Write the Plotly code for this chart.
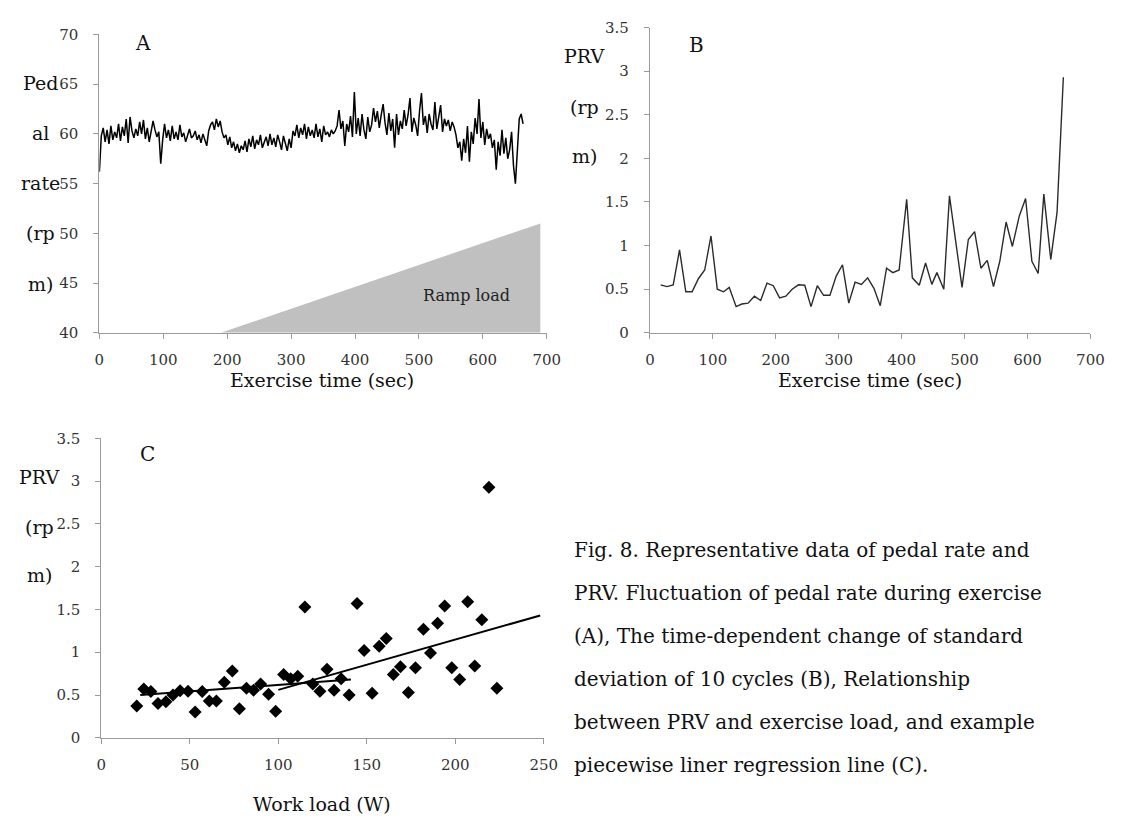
import plotly.graph_objects as go

# ---------------- data ----------------
# (A) pedal rate sampled every 3 s
rate_a = [
    56.2, 59.8, 60.6, 59.2, 60.4, 59.0, 60.8, 59.4, 60.2, 59.6, 61.0,
    59.3, 60.7, 59.8, 61.5, 59.1, 61.7, 60.3, 59.6, 60.5, 59.8,
    61.2, 60.0, 61.4, 59.5, 60.6, 59.2, 60.1, 61.3, 60.4, 59.7, 60.2, 57.0, 59.4,
    61.0, 59.6, 60.4, 59.3, 60.8, 59.5, 60.2, 59.4, 60.9, 59.7, 60.1, 59.2, 59.9,
    60.5, 59.6, 59.8, 60.3, 59.4, 59.9, 59.1, 60.0, 59.5, 58.8,
    60.3, 60.9, 61.2, 60.4, 61.5, 60.7, 61.3, 60.2, 59.6,
    59.9, 58.9, 59.7, 58.6, 59.2, 58.3, 59.0, 58.1, 58.8,
    58.4, 59.3, 58.2, 59.5, 58.7, 59.8, 58.5, 59.4, 58.9, 59.9, 58.6, 59.2, 59.7,
    58.8, 60.0, 58.9, 59.6, 58.7, 59.9, 59.2, 58.4, 59.8, 59.1, 58.3, 59.5, 58.6,
    60.3, 59.8, 60.9, 59.6, 60.6, 59.9, 61.0, 59.5, 60.7, 59.8, 60.4, 59.6, 61.0,
    59.7, 60.5, 59.2, 60.8, 59.9, 60.2, 59.7, 60.4, 60.0, 60.3,
    60.8, 62.4, 60.5, 61.3, 58.8, 61.0, 60.2, 61.8, 59.7, 64.2,
    60.0, 61.6, 59.8, 62.0, 60.4, 59.5, 61.7, 60.2, 60.9, 62.6, 61.2, 62.3, 60.6,
    61.9, 63.0, 61.1, 59.9,
    62.1, 60.3, 61.5, 58.6, 62.0, 59.9, 61.3, 60.5, 62.4, 60.8, 61.9, 63.6, 60.2,
    61.6, 60.9, 59.8,
    62.3, 64.1, 60.9, 61.8, 60.1, 62.0, 61.0, 60.4, 63.2, 60.5, 61.7, 62.9, 60.2,
    61.5, 60.8, 61.4, 60.3, 61.2, 60.7, 59.9,
    58.6, 59.2, 57.3, 59.5, 58.1, 60.8, 57.2, 60.2, 59.0, 61.6, 60.0, 63.5, 59.6,
    61.2, 58.9, 60.5, 59.5, 60.0, 58.6, 59.4,
    56.4, 59.2, 57.8, 60.4, 58.0, 59.6, 57.5, 58.4, 60.2, 56.8, 55.0, 58.6, 61.5,
    62.0, 61.0,
]
time_a = list(range(0, 3 * len(rate_a), 3))

# ramp load (time in s, drawn on the pedal-rate scale)
ramp_time = [190, 690, 690]
ramp_level = [40, 51, 40]

# (B) SD of 10 cycles vs exercise time
time_b = [17, 27, 37, 47, 57, 67, 77, 87, 97, 107, 117, 126, 137, 146, 156,
          166, 176, 186, 196, 206, 216, 226, 236, 246, 256, 266, 276, 286,
          296, 306, 316, 326, 336, 346, 356, 366, 376, 386, 396, 408, 417,
          428, 438, 448, 456, 467, 476, 486, 496, 506, 516, 526, 536, 546,
          556, 566, 576, 587, 597, 607, 617, 626, 637, 647, 657]
prv_b = [0.55, 0.53, 0.55, 0.95, 0.47, 0.47, 0.62, 0.72, 1.11, 0.50, 0.47,
         0.52, 0.30, 0.33, 0.34, 0.42, 0.37, 0.57, 0.54, 0.40, 0.42, 0.50,
         0.55, 0.545, 0.30, 0.54, 0.43, 0.43, 0.65, 0.78, 0.34, 0.58, 0.555,
         0.63, 0.51, 0.31, 0.74, 0.69, 0.72, 1.53, 0.63, 0.545, 0.80, 0.555,
         0.69, 0.50, 1.57, 1.02, 0.52, 1.07, 1.16, 0.74, 0.83, 0.53, 0.82,
         1.27, 0.99, 1.34, 1.54, 0.82, 0.68, 1.59, 0.84, 1.38, 2.93]

# (C) PRV vs work load
load_c = [20, 24, 28, 32, 36.5, 40.5, 44.5, 49, 53, 57, 61, 65, 69.5, 74,
          78, 82, 86, 90, 94.5, 98.5, 103, 107, 111, 115, 119.5, 123.5,
          127.5, 131.5, 135.5, 140, 144.5, 148.5, 153, 157, 161, 165, 169,
          173.5, 177.5, 182, 186, 190, 194, 198, 202.5, 207, 211, 215, 219,
          223.5]
prv_c = prv_b[16:] + [0.58]

# piecewise regression segments (load, PRV)
reg1_load = [22, 141]
reg1_prv = [0.50, 0.68]
reg2_load = [100, 248]
reg2_prv = [0.56, 1.43]

x_ticks_time = [0, 100, 200, 300, 400, 500, 600, 700]

caption_lines = [
    "Fig. 8. Representative data of pedal rate and",
    "PRV. Fluctuation of pedal rate during exercise",
    "(A), The time-dependent change of standard",
    "deviation of 10 cycles (B), Relationship",
    "between PRV and exercise load, and example",
    "piecewise liner regression line (C).",
]

# ---------------- figure ----------------
W, H = 1128, 826
SERIF = "DejaVu Serif"
AXIS_GREY = "#9a9a9a"


def px(x):
    return x / W


def py(y):
    return 1 - y / H


fig = go.Figure()

fig.add_trace(go.Scatter(
    x=ramp_time, y=ramp_level, fill="toself", fillcolor="#c0c0c0",
    mode="lines", line=dict(width=0, color="#c0c0c0"),
    xaxis="x", yaxis="y", hoverinfo="skip"))
fig.add_trace(go.Scatter(
    x=time_a, y=rate_a, mode="lines", line=dict(color="black", width=1.5),
    xaxis="x", yaxis="y"))

fig.add_trace(go.Scatter(
    x=time_b, y=prv_b, mode="lines", line=dict(color="#2b2b2b", width=1.4),
    xaxis="x2", yaxis="y2"))

fig.add_trace(go.Scatter(
    x=load_c, y=prv_c, mode="markers",
    marker=dict(symbol="diamond", size=10, color="black"),
    xaxis="x3", yaxis="y3"))
fig.add_trace(go.Scatter(
    x=reg1_load, y=reg1_prv, mode="lines", line=dict(color="black", width=2),
    xaxis="x3", yaxis="y3"))
fig.add_trace(go.Scatter(
    x=reg2_load, y=reg2_prv, mode="lines", line=dict(color="black", width=2),
    xaxis="x3", yaxis="y3"))

axis_style = dict(
    showline=True, linecolor=AXIS_GREY, linewidth=1.2,
    ticks="outside", ticklen=5, tickcolor=AXIS_GREY, tickwidth=1.2,
    showgrid=False, zeroline=False,
    tickfont=dict(family=SERIF, size=15, color="#333333"),
)

fig.update_layout(
    width=W, height=H,
    margin=dict(l=0, r=0, t=0, b=0),
    paper_bgcolor="white", plot_bgcolor="white",
    showlegend=False,
    xaxis=dict(domain=[px(96), px(551)], range=[0, 700], tickvals=x_ticks_time,
               anchor="y", ticklabelstandoff=8, **axis_style),
    yaxis=dict(domain=[py(331), py(26)], range=[40, 70], dtick=5,
               anchor="x", ticklabelstandoff=12, **axis_style),
    xaxis2=dict(domain=[px(656), px(1104)], range=[0, 700], tickvals=x_ticks_time,
                anchor="y2", ticklabelstandoff=8, **axis_style),
    yaxis2=dict(domain=[py(331), py(19)], range=[0, 3.5], dtick=0.5,
                anchor="x2", ticklabelstandoff=12, **axis_style),
    xaxis3=dict(domain=[px(98), px(548)], range=[0, 250], dtick=50,
                anchor="y3", ticklabelstandoff=8, **axis_style),
    yaxis3=dict(domain=[py(745), py(439)], range=[0, 3.5], dtick=0.5,
                anchor="x3", ticklabelstandoff=12, **axis_style),
)


def label(text, x, y, size=19, anchor="center"):
    fig.add_annotation(
        text=text, x=px(x), y=py(y), xref="paper", yref="paper",
        xanchor=anchor, yanchor="middle", showarrow=False,
        font=dict(family=SERIF, size=size, color="#111111"))


# panel letters
label("A", 140, 35, size=20)
label("B", 703, 37, size=20)
label("C", 145, 455, size=20)

# y-axis titles, wrapped line by line
for txt, yy in zip(["Ped", "al", "rate", "(rp", "m)"], [76, 127, 178, 229, 281]):
    label(txt, 36, yy)
for txt, yy in zip(["PRV", "(rp", "m)"], [48, 100, 150]):
    label(txt, 589, yy)
for txt, yy in zip(["PRV", "(rp", "m)"], [478, 530, 579]):
    label(txt, 35, yy)

# x-axis titles
label("Exercise time (sec)", 322, 379)
label("Exercise time (sec)", 880, 379)
label("Work load (W)", 322, 813)

# ramp label
fig.add_annotation(
    text="Ramp load", x=574, y=43.7, xref="x", yref="y", showarrow=False,
    font=dict(family=SERIF, size=16, color="#222222"))

# caption
for i, line in enumerate(caption_lines):
    label(line, 577, 553 + i * 44, size=20, anchor="left")

fig.write_html("out.html")
